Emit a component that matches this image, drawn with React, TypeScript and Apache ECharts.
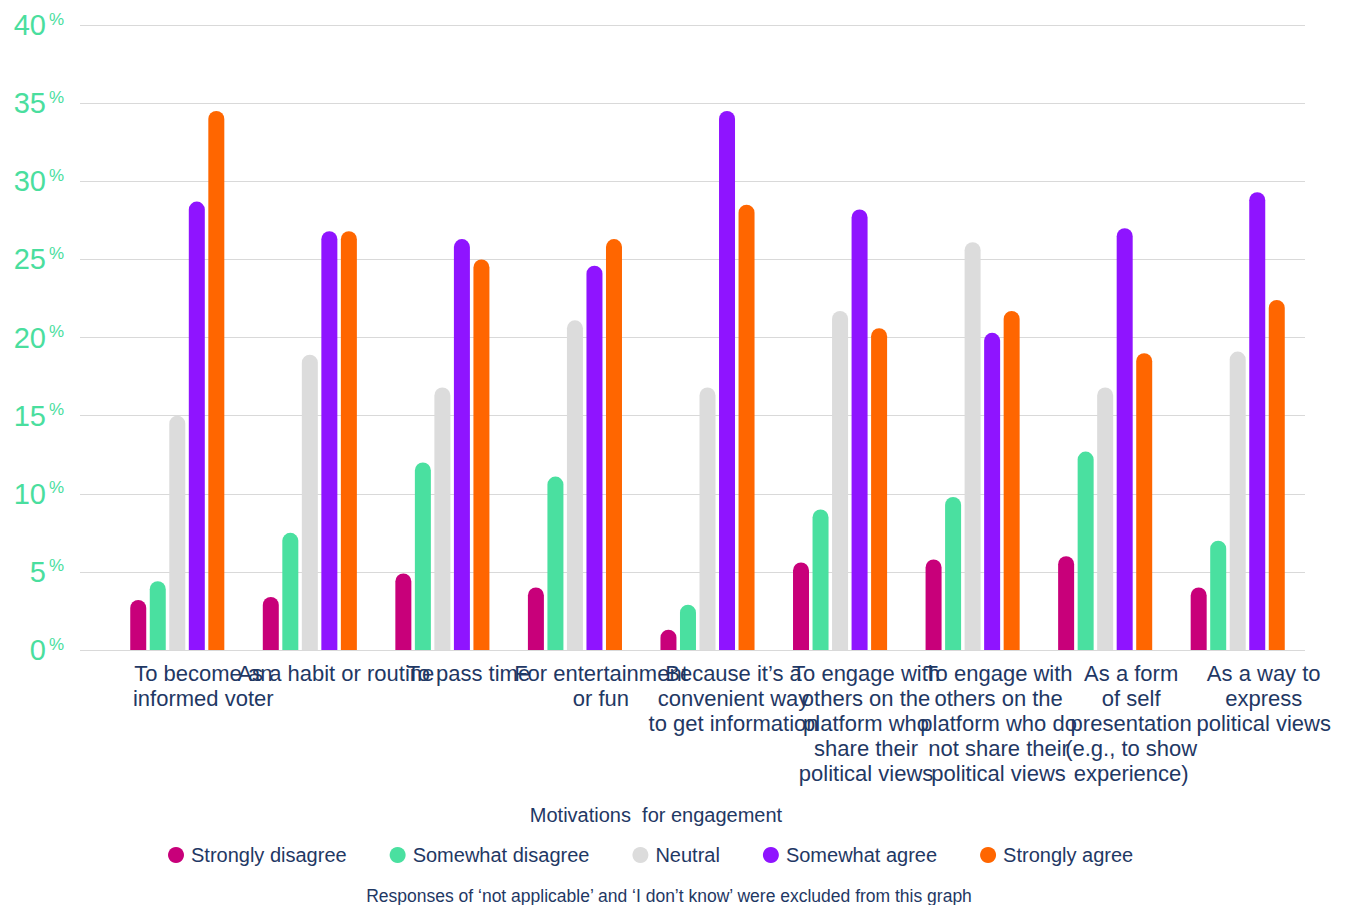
import React, { useEffect, useRef } from "react";
import * as echarts from "echarts";

const categories = [
  "To become an\ninformed voter",
  "As a habit or routine",
  "To pass time",
  "For entertainment\nor fun",
  "Because it\u2019s a\nconvenient way\nto get information",
  "To engage with\nothers on the\nplatform who\nshare their\npolitical views",
  "To engage with\nothers on the\nplatform who do\nnot share their\npolitical views",
  "As a form\nof self\npresentation\n(e.g., to show\nexperience)",
  "As a way to\nexpress\npolitical views",
];

const seriesNames = ["Strongly disagree", "Somewhat disagree", "Neutral", "Somewhat agree", "Strongly agree"];
const stronglyDisagree = [3.2, 3.4, 4.9, 4.0, 1.3, 5.6, 5.8, 6.0, 4.0];
const somewhatDisagree = [4.4, 7.5, 12.0, 11.1, 2.9, 9.0, 9.8, 12.7, 7.0];
const neutral = [15.0, 18.9, 16.8, 21.1, 16.8, 21.7, 26.1, 16.8, 19.1];
const somewhatAgree = [28.7, 26.8, 26.3, 24.6, 34.5, 28.2, 20.3, 27.0, 29.3];
const stronglyAgree = [34.5, 26.8, 25.0, 26.3, 28.5, 20.6, 21.7, 19.0, 22.4];
const yTicks = [0, 5, 10, 15, 20, 25, 30, 35, 40];

const colors = ["#c8007a", "#4ae0a0", "#dcdcdc", "#8f14ff", "#ff6600"];
const navy = "#1f3864";
const green = "#4ade9e";

export default function App() {
  const ref = useRef<HTMLDivElement>(null);
  useEffect(() => {
    document.body.style.margin = "0";
    if (!ref.current) return;
    const chart = echarts.init(ref.current, null, { renderer: "svg" });
    const values = [stronglyDisagree, somewhatDisagree, neutral, somewhatAgree, stronglyAgree];
    chart.setOption({
      animation: false,
      textStyle: { fontFamily: "Liberation Sans, Arial, sans-serif" },
      title: [
        {
          text: "Motivations  for engagement",
          left: 651,
          top: 800,
          textAlign: "center",
          textStyle: { fontSize: 20, fontWeight: "normal", color: navy },
        },
        {
          text: "Responses of \u2018not applicable\u2019 and \u2018I don\u2019t know\u2019 were excluded from this graph",
          left: 664,
          top: 882,
          textAlign: "center",
          textStyle: { fontSize: 17.5, fontWeight: "normal", color: navy },
        },
      ],
      legend: {
        data: seriesNames,
        left: 163,
        top: 840,
        icon: "circle",
        itemWidth: 16,
        itemHeight: 16,
        itemGap: 43,
        textStyle: { fontSize: 20, color: navy, padding: [0, 0, 0, 2] },
      },
      grid: [
        { left: 80, right: 44, top: 25, bottom: 255 },
        { left: 111, right: 45, top: 25, bottom: 255 },
      ],
      xAxis: [
        { type: "value", gridIndex: 0, show: false, min: 0, max: 1 },
        {
          type: "category",
          gridIndex: 1,
          data: categories,
          axisLine: { show: false },
          axisTick: { show: false },
          axisLabel: {
            interval: 0,
            hideOverlap: false,
            margin: 11,
            fontSize: 22,
            lineHeight: 25,
            color: navy,
            align: "center",
            padding: [0, 0, 0, 52],
          },
        },
      ],
      yAxis: [
        {
          type: "value",
          gridIndex: 0,
          min: 0,
          max: 40,
          interval: 5,
          axisLine: { show: false },
          axisTick: { show: false },
          splitLine: { lineStyle: { color: "#d9d9d9", width: 1 } },
          axisLabel: {
            margin: 16,
            formatter: (v: number) => (yTicks.includes(v) ? `{n|${v}}{p|%}` : ""),
            rich: {
              n: { fontSize: 29, color: green, fontFamily: "Liberation Sans, Arial, sans-serif", verticalAlign: "bottom" },
              p: { fontSize: 17, color: green, fontFamily: "Liberation Sans, Arial, sans-serif", verticalAlign: "top", padding: [0, 0, 12, 3] },
            },
          },
        },
        {
          type: "value",
          gridIndex: 1,
          min: 0,
          max: 40,
          interval: 5,
          show: false,
          splitLine: { show: false },
        },
      ],
      series: seriesNames.map((name, i) => ({
        name,
        type: "bar",
        xAxisIndex: 1,
        yAxisIndex: 1,
        data: values[i],
        barWidth: 16,
        barGap: "22%",
        itemStyle: { color: colors[i], borderRadius: [8, 8, 0, 0] },
      })),
    });
    return () => chart.dispose();
  }, []);
  return <div ref={ref} style={{ position: "absolute", left: 0, top: 0, width: 1349, height: 905 }} />;
}
